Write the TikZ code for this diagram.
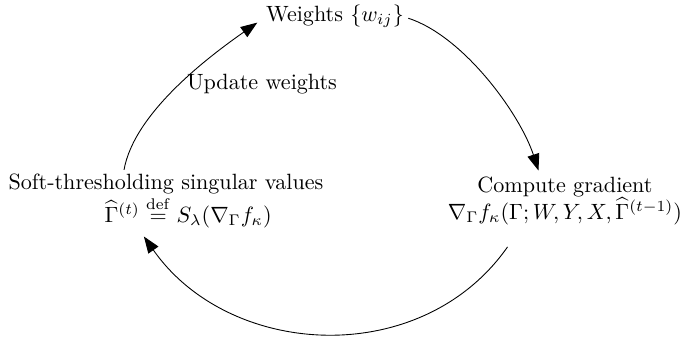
\documentclass[tikz,border=0pt]{standalone}
\usetikzlibrary{arrows.meta}
\begin{document}
\begin{tikzpicture}[x=0.4525pt,y=-0.4525pt,
  lbl/.style={inner sep=0pt, outer sep=0pt, align=center},
  arr/.style={-{Triangle[length=7.5pt,width=5.5pt]}, line width=0.4pt}]
\useasboundingbox (0,0) rectangle (690,338);
\node[lbl] (W) at (335,16) {Weights $\{w_{ij}\}$};
\node[lbl] (S) at (166,201) {Soft-thresholding singular values\\
  \hspace*{20pt}$\widehat{\Gamma}^{(t)}\stackrel{\mathrm{def}}{=}S_{\lambda}(\nabla_{\Gamma}f_{\kappa})$};
\node[lbl] (C) at (565,201) {Compute gradient\\
  $\nabla_{\Gamma}f_{\kappa}(\Gamma;W,Y,X,\widehat{\Gamma}^{(t-1)})$};
\node[lbl, anchor=west] (U) at (187,84) {Update weights};
\coordinate (s1) at ([xshift=-19pt,yshift=2pt]S.north);
\coordinate (w1) at ([xshift=-4pt,yshift=-3pt]W.west);
\coordinate (w2) at ([xshift=2pt,yshift=-1pt]W.east);
\coordinate (c1) at ([xshift=-12pt,yshift=3pt]C.north);
\coordinate (c2) at ([xshift=-26pt,yshift=-10pt]C.south);
\coordinate (s2) at ([xshift=-10pt,yshift=-4pt]S.south);
\draw[arr] (s1) to[out=80,in=215,looseness=0.75] (w1);
\draw[arr] (w2) to[out=-18,in=108,looseness=0.75] (c1);
\draw[arr] (c2) to[out=-125,in=-55,looseness=1.05] (s2);
\end{tikzpicture}
\end{document}
